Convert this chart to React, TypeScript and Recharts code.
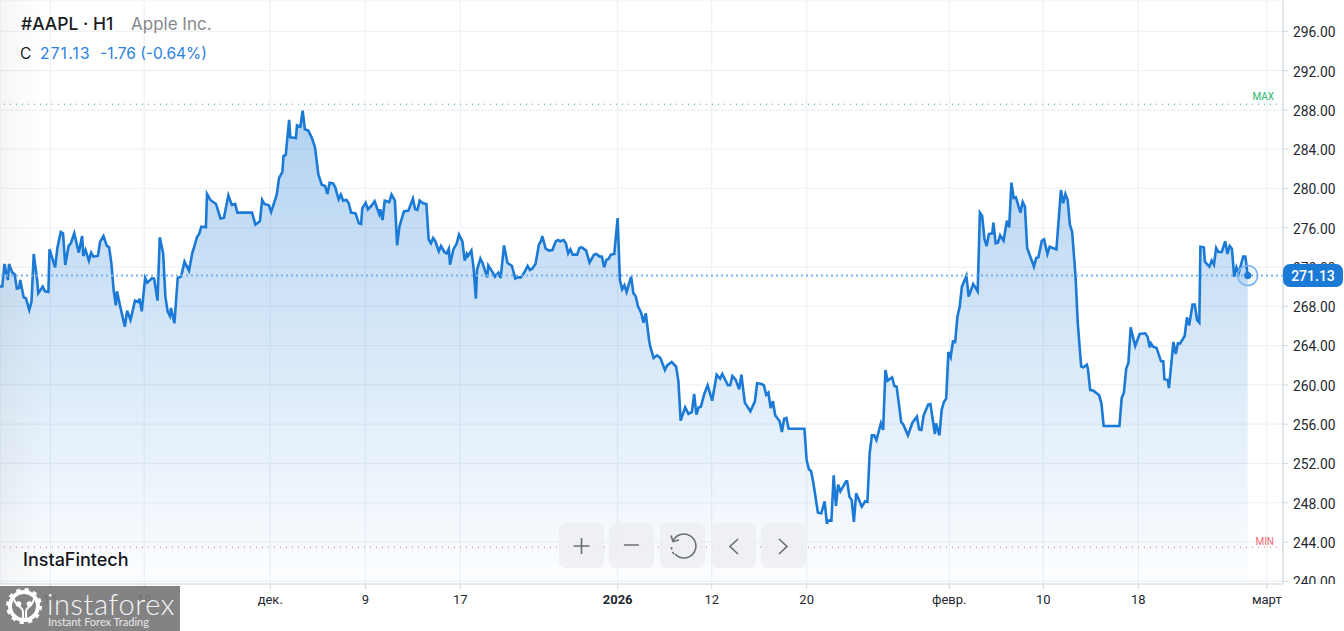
import React from 'react';
import { ComposedChart, Area, XAxis, YAxis, CartesianGrid, ReferenceLine, ReferenceDot } from 'recharts';

// hourly bar number of each traced turning point, and the close at that bar
const bars = [
  0, 1, 2, 3.5, 4, 5.5, 6.5, 7.5, 8.5, 9, 10.5, 11.5, 13, 14, 15, 16.5, 17, 19, 20, 21.5, 22, 24.5, 25.5, 27, 28, 29, 30.5, 31.5, 33, 35,
  36.5, 37, 38, 39.5, 40.5, 41.5, 43.5, 44.5, 46, 47.5, 48.5, 49.5, 50.5, 51.5, 52, 53.5, 55.5, 56.5, 58, 60, 61.5, 62, 63, 64.5, 65.5, 67.5, 68.5, 70, 71, 72.5,
  73.5, 74.5, 75.5, 76, 77.5, 79, 80.5, 82, 84, 85.5, 86, 87.5, 88.5, 89.5, 91.5, 92, 93.5, 96, 98, 99.5, 101.5, 103, 104.5, 105.5, 112, 113.5, 115.5, 116.5, 117.5, 119.5,
  120.5, 123, 124, 125.5, 126, 127, 128.5, 129, 131.5, 132, 133.5, 134.5, 135.5, 137, 138.5, 140, 141.5, 143, 144.5, 145.5,
  146.5, 148, 149, 150.5, 151.5, 152.5, 154, 155, 156, 158, 159.5, 160.5, 161, 162.5, 163.5, 165, 166.5, 168.5, 169, 170, 171, 173, 174, 175.5, 176.5, 177.5, 179.5, 181.5, 183.5, 184.5,
  185.5, 186.5, 188, 189.5, 190.5, 191.5, 192.5, 193.5, 195, 196, 197.5, 198.5, 199.5, 200, 201.5, 203, 204, 205.5, 206.5, 207.5, 208, 209.5, 210.5, 211.5, 212, 213.5, 214.5, 216.5, 217, 219,
  220, 221.5, 222.5, 224, 225.5, 227.5, 229, 230, 231.5, 233, 234.5, 235.5, 236.5, 238, 239.5, 240.5, 241, 242.5, 244, 245.5, 247, 248, 249, 250.5, 251.5, 252.5, 253.5, 254.5, 256.5, 257.5,
  258.5, 260.5, 262, 264, 265, 266.5, 267.5, 268.5, 269.5, 270.5, 271.5, 273, 274.5, 275.5, 276.5, 277.5, 278.5, 280.5, 281.5, 282.5, 283.5, 285, 286, 287, 288.5, 289, 290.5,
  292, 293.5, 295.5, 296.5, 298.5, 300.5, 301.5, 302.5, 304.5, 306, 307.5, 308.5, 309.5, 310.5, 311.5, 313, 314.5, 316.5, 318.5, 320, 321, 323.5, 324.5, 325.5, 327, 328.5, 329.5, 331, 333.5, 335.5,
  336.5, 338.5, 339.5, 340.5, 341.5, 342.5, 343.5, 344.5, 346.5, 347.5, 348.5, 349.5, 350.5, 357.5, 358.5, 359.5, 360.5, 361.5, 363.5, 365, 366.5, 367.5, 368, 369.5, 370.5, 371.5, 372.5, 373.5, 376, 376.5,
  377.5, 378.5, 379.5, 380.5, 383, 384.5, 385.5, 386.5, 387.5, 388.5, 389.5, 391.5, 392.5, 393.5, 394.5, 396.5, 397.5, 398.5, 400.5, 401.5, 403.5, 405.5, 407.5, 408.5, 409.5, 410.5, 412.5, 413.5, 415.5, 416,
  417.5, 418.5, 419.5, 420.5, 421.5, 422.5, 423.5, 424.5, 425.5, 426.5, 427.5, 429.5, 430.5, 432.5, 434.5, 435.5, 436.5, 437.5, 438.5, 439.5, 441, 441.5, 442.5, 443.5, 444.5, 446, 447.5, 448.5, 449.5, 450.5,
  451.5, 453.5, 454.5, 455.5, 456.5, 459.5, 460.5, 461.5, 463, 464, 465.5, 466.5, 469.5, 471.5, 472.5, 473.5, 474.5, 475.5, 476.5, 478, 479, 480.5, 481.5, 483, 483.5, 484.5, 486, 488.5, 489.5, 490.5,
  497.5, 498.5, 499.5, 500.5, 501.5, 502.5, 504.5, 506.5, 509, 510, 511, 511.5, 512.5, 514, 516, 517, 517.5, 519, 519.5, 521.5, 522.5, 523.5, 524.5, 526.5, 527.5, 528.5, 530, 531, 532, 533,
  533.5, 535, 535.5, 537.5, 538.5, 539.5, 540.5, 541.5, 543, 544.5, 545.5, 546.5, 547.5, 548.5, 549.5, 550.5, 552.5, 553.5, 554.5,
];

const closes = [
  270.01, 270.01, 272.31, 270.68, 272.31, 271.43, 271.26, 269.8, 269.87, 270.68, 268.92, 268.82, 267.63, 268.48, 273.33, 270.68, 269.33, 270.01, 269.53, 269.46, 273.81, 271.97, 273.94, 275.57, 275.44, 272.21, 274.15, 274.42, 275.44, 273.47,
  275.16, 273.13, 273.74, 272.65, 273.47, 273.06, 273.13, 274.59, 275.16, 274.15, 274.01, 272.38, 269.67, 268.1, 269.53, 267.9, 265.93, 267.56, 266.61, 268.58, 268.44, 268.78, 267.49, 270.89, 270.41, 270.85, 270.82, 268.58, 275.03, 273.4,
  268.99, 267.49, 267.02, 267.83, 266.27, 270.89, 271.02, 272.55, 271.63, 273.47, 273.81, 275.03, 275.37, 276.11, 276.05, 279.44, 278.83, 278.42, 276.93, 277, 279.3, 278.32, 278.42, 277.54, 277.54, 276.32, 276.66, 278.83, 278.42, 278.29,
  277.61, 279.37, 281.04, 281.68, 283.31, 283.41, 286.98, 285.21, 285.14, 286.43, 286.3, 287.93, 286.03, 285.89, 285.21, 284.19, 281.41, 280.39, 280.26, 279.44,
  280.59, 280.52, 280.12, 278.89, 279.37, 278.76, 278.83, 278.49, 277.54, 277.47, 276.45, 276.38, 277.98, 278.55, 277.88, 278.21, 278.69, 277.4, 277.88, 276.79, 278.76, 278.62, 279.37, 278.76, 274.21, 276.11, 277.67, 277.74, 278.96, 277.88,
  277.81, 278.76, 278.49, 278.42, 274.82, 274.41, 274.96, 274.62, 273.6, 274.14, 273.53, 273.39, 273.87, 272.24, 273.8, 274.41, 275.3, 274.62, 272.65, 273.33, 273.12, 273.67, 271.83, 268.78, 271.7, 272.85, 272.38, 270.95, 272.17, 271.43,
  271.02, 271.43, 270.88, 274.21, 272.44, 272.11, 270.82, 270.95, 270.95, 271.43, 272.11, 271.7, 271.83, 272.31, 274.28, 274.68, 275.16, 273.87, 273.67, 273.73, 274.62, 274.75, 274.62, 274.75, 274.41, 273.39, 273.8, 273.26, 273.26, 273.94,
  274.01, 273.67, 272.44, 273.26, 273.33, 273.06, 273.06, 271.97, 272.72, 272.85, 273.26, 273.33, 276.99, 270.68, 269.73, 270.14, 269.46, 271.02, 269.32, 269.05, 268.03, 267.29, 266.34, 267.29, 264.5, 263.89, 262.74,
  263.01, 262.74, 261.52, 261.99, 262.33, 261.86, 260.36, 256.36, 257.71, 257.04, 257.24, 259.07, 256.97, 257.71, 257.78, 259.07, 259.96, 258.39, 261.04, 260.63, 261.11, 259.96, 259.96, 260.91, 260.5, 259.55, 261.04, 258.19, 257.31, 258.33,
  260.16, 260.09, 259.96, 259, 259.21, 257.65, 258.33, 256.9, 256.29, 255.2, 256.56, 256.63, 255.54, 255.54, 252.35, 251.4, 251.2, 249.98, 246.99, 246.92, 248.14, 245.84, 246.18, 246.18, 250.79, 247.67, 249.84, 249.16, 250.18, 250.18,
  248.62, 248.28, 246.04, 248.96, 247.6, 248.14, 248.08, 253.03, 254.86, 254.86, 254.39, 256.09, 255.41, 261.52, 260.43, 260.77, 259.89, 259.82, 256.22, 255.95, 254.86, 256.15, 256.76, 255.47, 255.41, 256.9, 257.99, 258.05, 255, 256.09,
  254.86, 257.44, 258.26, 258.6, 263.35, 262.81, 264.43, 264.37, 266.95, 267.96, 270, 271.09, 268.98, 270.27, 269.53, 277.54, 277.2, 274.89, 274.14, 275.36, 275.43, 276.52, 274.41, 274.48, 275.23, 274.68, 276.72, 276.04, 280.59, 279.03,
  279.1, 277.54, 278.62, 278.15, 273.94, 272.04, 272.92, 272.99, 274.68, 274.82, 273.33, 274.07, 273.8, 279.84, 278.49, 279.44, 278.83, 276.31, 275.57, 271.02, 266.27, 261.86, 261.79, 262.06, 261.65, 259.48, 259.41, 258.94, 258.12, 255.81,
  255.81, 258.67, 259.21, 261.65, 262.26, 265.86, 263.96, 265.18, 265.25, 264.91, 263.82, 264.23, 263.89, 263.76, 262.4, 262.4, 260.57, 260.5, 259.68, 264.37, 263.15, 264.23, 264.23, 264.98, 266.88, 266.06, 268.17, 268.17, 266.61, 266.34,
  274.07, 274.01, 272.51, 272.04, 272.65, 272.24, 273.94, 273.53, 273.53, 274.62, 273.33, 274.14, 273.87, 271.02, 271.97, 271.36, 273.06, 273.06, 271.13,
];

const priceTicks = [240, 244, 248, 252, 256, 260, 264, 268, 272, 276, 280, 284, 288, 292, 296];
const timeTicks = [22.4, 64.1, 120.1, 162.4, 204.6, 274.5, 316.3, 358.5, 421.9, 463.7, 505.9, 563];
const timeLabels = ['11', '19', 'дек.', '9', '17', '2026', '12', '20', 'февр.', '10', '18', 'март'];

const LAST_PRICE = 271.13;
const MAX_PRICE = 288.58;
const MIN_PRICE = 243.47;

const data = bars.map((bar, i) => ({ bar, close: closes[i] }));

const BLUE = '#1b7ad6';
const FONT = 'Roboto, sans-serif';

const TimeTick = (props: any) => {
  const { x, y, payload } = props;
  const label = timeLabels[timeTicks.indexOf(payload.value)];
  const bold = label === '2026';
  return (
    <text x={x} y={y + 13} textAnchor="middle" fontFamily={FONT} fontSize={13} fontWeight={bold ? 700 : 400} fill="#222831">
      {label}
    </text>
  );
};

const LevelLabel = (props: any) => {
  const { viewBox, text, color, dy } = props;
  return (
    <text x={viewBox.x + viewBox.width - 9} y={viewBox.y + dy} textAnchor="end" fontFamily={FONT} fontSize={10} fill={color}>
      {text}
    </text>
  );
};

const Button = ({ left, children }: any) => (
  <svg
    width={45}
    height={45}
    style={{ position: 'absolute', left, top: 523, background: 'rgba(236,238,240,0.8)', borderRadius: 7 }}
    fill="none"
    stroke="#6b6f75"
    strokeWidth={1.6}
  >
    {children}
  </svg>
);

const App = () => {
  return (
    <div style={{ position: 'absolute', left: 0, top: 0, width: 1344, height: 631, overflow: 'hidden', background: '#fff' }}>
      <ComposedChart width={1344} height={631} data={data} margin={{ top: 0, right: 0, bottom: 0, left: 0 }}>
        <defs>
          <linearGradient id="closeFill" x1="0" y1="0" x2="0" y2="1">
            <stop offset="0%" stopColor="#1b7ad6" stopOpacity={0.34} />
            <stop offset="100%" stopColor="#1b7ad6" stopOpacity={0.01} />
          </linearGradient>
        </defs>
        <CartesianGrid stroke="#eff1f6" strokeWidth={1.2} />
        <XAxis
          dataKey="bar"
          type="number"
          domain={[0, 570.2]}
          allowDataOverflow
          ticks={timeTicks}
          interval={0}
          height={47}
          tick={<TimeTick />}
          stroke="#cfd8e2"
          tickSize={5}
        />
        <YAxis
          orientation="right"
          type="number"
          domain={[239.725, 299.19]}
          allowDataOverflow
          ticks={priceTicks}
          interval={0}
          width={61}
          tickFormatter={(v: number) => v.toFixed(2)}
          tick={{ fontFamily: FONT, fontSize: 13.8, fill: '#222831', dy: 1 }}
          tickSize={5}
          tickMargin={5}
          stroke="#cfd8e2"
        />
        <Area
          dataKey="close"
          type="linear"
          stroke={BLUE}
          strokeWidth={2.6}
          fill="url(#closeFill)"
          fillOpacity={1}
          dot={false}
          activeDot={false}
          isAnimationActive={false}
        />
        <ReferenceLine y={MAX_PRICE} stroke="#2bb673" strokeWidth={1} strokeDasharray="1 5" label={<LevelLabel text="MAX" color="#2bb673" dy={-4} />} />
        <ReferenceLine y={MIN_PRICE} stroke="#ef6b73" strokeWidth={1} strokeDasharray="1 5" label={<LevelLabel text="MIN" color="#ef6b73" dy={-2} />} />
        <ReferenceLine y={LAST_PRICE} stroke="#74b1ef" strokeWidth={2} strokeDasharray="2 3" />
        <ReferenceDot x={554.5} y={LAST_PRICE} r={10} fill="rgba(27,122,214,0.08)" stroke="#7db6ee" strokeWidth={1.5} />
        <ReferenceDot x={554.5} y={LAST_PRICE} r={3.2} fill={BLUE} stroke={BLUE} />
      </ComposedChart>

      {/* clip for the lowest price label */}
      <div style={{ position: 'absolute', left: 1284, top: 584, width: 60, height: 14, background: '#fff' }} />

      {/* faint shade on the left edge */}
      <div style={{ position: 'absolute', left: 0, top: 0, width: 40, height: 584, background: 'linear-gradient(90deg, rgba(120,120,120,0.07), rgba(120,120,120,0))' }} />

      {/* last price tag, sits over the 272 tick */}
      <div style={{ position: 'absolute', left: 1283, top: 264, width: 60, height: 23, borderRadius: 7, background: BLUE, color: '#fff', fontFamily: FONT, fontSize: 14, fontWeight: 500, lineHeight: '24px', textAlign: 'center' }}>
        {LAST_PRICE.toFixed(2)}
      </div>

      <div style={{ position: 'absolute', left: 21, top: 13, fontFamily: 'Inter, sans-serif', fontSize: 17.5, lineHeight: '22px', whiteSpace: 'nowrap', color: '#1b1b1f', fontWeight: 500 }}>
        #AAPL · H1
        <span style={{ position: 'absolute', left: 110, top: 0, fontSize: 17, color: '#85878c', fontWeight: 400 }}>Apple Inc.</span>
      </div>
      <div style={{ position: 'absolute', left: 20, top: 44, fontFamily: 'Inter, sans-serif', fontSize: 15.5, lineHeight: '20px', whiteSpace: 'nowrap', color: '#2a7fe0' }}>
        <span style={{ color: '#1b1b1f' }}>C</span>
        <span style={{ position: 'absolute', left: 20, letterSpacing: 1.2 }}>271.13</span>
        <span style={{ position: 'absolute', left: 80 }}>-1.76 (-0.64%)</span>
      </div>

      <div style={{ position: 'absolute', left: 23, top: 549, fontFamily: 'Inter, sans-serif', fontSize: 18, lineHeight: '22px', fontWeight: 500, color: '#15171c' }}>
        InstaFintech
      </div>

      <Button left={559}>
        <path d="M22.5 15V31M14.5 23H30.5" />
      </Button>
      <Button left={609}>
        <path d="M15 22H30" />
      </Button>
      <Button left={660}>
        <path d="M13 18A12 12 0 1 1 15 31" />
        <path d="M14 31A12 12 0 0 1 11.5 24" strokeDasharray="2.5 2.5" />
        <path d="M11 12.5L13 18.5L19 17" />
      </Button>
      <Button left={711}>
        <path d="M27 16L19 23.5L27 31" />
      </Button>
      <Button left={761}>
        <path d="M18 16L26 23.5L18 31" />
      </Button>

      <div style={{ position: 'absolute', left: 0, top: 586, width: 180, height: 45, background: 'rgba(122,122,122,0.93)', overflow: 'hidden' }}>
        <svg width={44} height={45} style={{ position: 'absolute', left: 3, top: 0 }} fill="none" stroke="#fff">
          <circle cx={21} cy={20} r={14} strokeWidth={4} />
          <circle cx={21} cy={20} r={16} strokeWidth={4} strokeDasharray="4 4.4" />
          <circle cx={15.5} cy={18} r={2.8} fill="#fff" stroke="none" />
          <circle cx={26.5} cy={18} r={2.8} fill="#fff" stroke="none" />
          <path d="M10 11C13 22 20 20 20 26V36M32 11C29 22 23 20 23 26V36" strokeWidth={2} />
        </svg>
        <div style={{ position: 'absolute', left: 47, top: 1, fontFamily: 'Lato, sans-serif', fontWeight: 300, fontSize: 29, lineHeight: '34px', letterSpacing: 0.6, color: '#f4f4f4', whiteSpace: 'nowrap' }}>
          instaforex
        </div>
        <div style={{ position: 'absolute', left: 48, top: 29, fontFamily: 'Lato, sans-serif', fontSize: 11, lineHeight: '14px', color: '#e8e8e8', whiteSpace: 'nowrap' }}>
          Instant Forex Trading
        </div>
      </div>
    </div>
  );
};

export default App;
